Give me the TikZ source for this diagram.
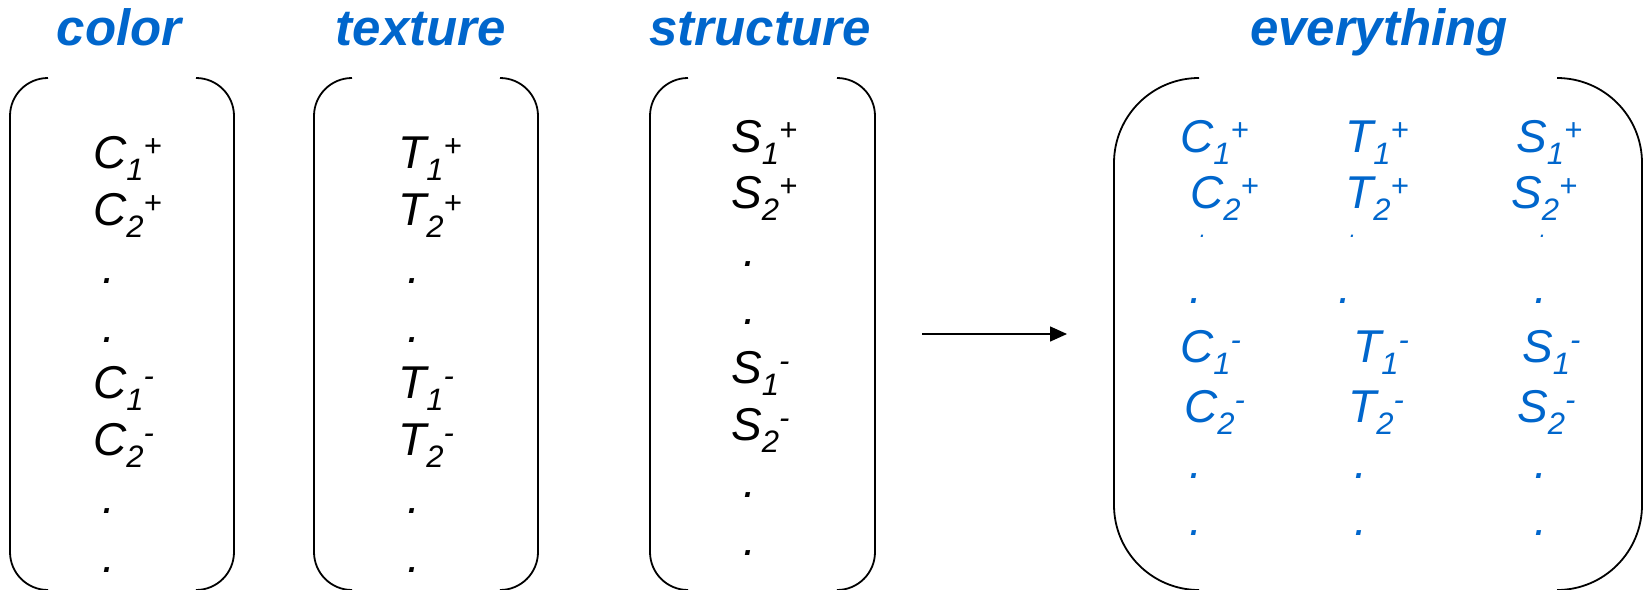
\documentclass[tikz,border=0pt]{standalone}
\usepackage{fontspec}
\setmainfont{Liberation Sans}
\usetikzlibrary{arrows.meta}
\definecolor{myblue}{RGB}{0,102,204}
\newcommand{\scr}{\fontsize{31}{31}\selectfont}
\newcommand{\ent}[3]{#1\raisebox{-12pt}{\scr #2}\raisebox{12pt}{\scr #3}}
\tikzset{
  ttl/.style={font=\fontsize{51}{51}\selectfont\bfseries\itshape, text=myblue, anchor=base, inner sep=0pt},
  entry/.style={font=\fontsize{46}{46}\selectfont\itshape, anchor=base west, inner sep=0pt},
  dotent/.style={font=\fontsize{46}{46}\selectfont\itshape, anchor=base, inner sep=0pt},
  smalldot/.style={font=\fontsize{22}{22}\selectfont\itshape, anchor=base, inner sep=0pt},
  bluetxt/.style={text=myblue},
  brk/.style={line width=1.8pt, rounded corners=#1},
  brk/.default=38pt,
  arr/.style={line width=1.5pt, -{Triangle[length=17pt,width=15pt]}}
}
\begin{document}
\begin{tikzpicture}[x=1pt,y=-1pt]
% titles
\node[ttl] (tcolor) at (119,45) {color};
\node[ttl] (ttexture) at (421,45) {texture};
\node[ttl] (tstructure) at (760,45) {structure};
\node[ttl] (teverything) at (1379,45) {everything};
% brackets
\draw[brk] (48,78) -- (10,78) -- (10,590) -- (48,590);
\draw[brk] (196,78) -- (234,78) -- (234,590) -- (196,590);
\draw[brk] (352,78) -- (314,78) -- (314,590) -- (352,590);
\draw[brk] (500,78) -- (538,78) -- (538,590) -- (500,590);
\draw[brk] (688,78) -- (650,78) -- (650,590) -- (688,590);
\draw[brk] (837,78) -- (875,78) -- (875,590) -- (837,590);
\draw[brk=85pt] (1199,78) -- (1114,78) -- (1114,590) -- (1199,590);
\draw[brk=85pt] (1557,78) -- (1642,78) -- (1642,590) -- (1557,590);
% color column
\node[entry] (c1p) at (93,168) {\ent{C}{1}{+}};
\node[entry] (c2p) at (93,225) {\ent{C}{2}{+}};
\node[dotent] (cd1) at (109,283) {.};
\node[dotent] (cd2) at (109,342) {.};
\node[entry] (c1m) at (93,398) {\ent{C}{1}{-}};
\node[entry] (c2m) at (93,455) {\ent{C}{2}{-}};
\node[dotent] (cd3) at (109,513) {.};
\node[dotent] (cd4) at (109,572) {.};
% texture column
\node[entry] (t1p) at (398,168) {\ent{T}{1}{+}};
\node[entry] (t2p) at (398,225) {\ent{T}{2}{+}};
\node[dotent] (td1) at (414,283) {.};
\node[dotent] (td2) at (414,342) {.};
\node[entry] (t1m) at (398,398) {\ent{T}{1}{-}};
\node[entry] (t2m) at (398,455) {\ent{T}{2}{-}};
\node[dotent] (td3) at (414,513) {.};
\node[dotent] (td4) at (414,572) {.};
% structure column
\node[entry] (s1p) at (731,152) {\ent{S}{1}{+}};
\node[entry] (s2p) at (731,208) {\ent{S}{2}{+}};
\node[dotent] (sd1) at (750,266) {.};
\node[dotent] (sd2) at (750,324) {.};
\node[entry] (s1m) at (731,383) {\ent{S}{1}{-}};
\node[entry] (s2m) at (731,440) {\ent{S}{2}{-}};
\node[dotent] (sd3) at (750,497) {.};
\node[dotent] (sd4) at (750,555) {.};
% arrow
\coordinate (astart) at (922,334);
\coordinate (aend) at (1067,334);
\draw[arr] (astart) -- (aend);
% everything
\begin{scope}[every node/.append style={bluetxt}]
\node[entry] (ec1p) at (1180,152) {\ent{C}{1}{+}};
\node[entry] (et1p) at (1345,152) {\ent{T}{1}{+}};
\node[entry] (es1p) at (1516,152) {\ent{S}{1}{+}};
\node[entry] (ec2p) at (1190,208) {\ent{C}{2}{+}};
\node[entry] (et2p) at (1345,208) {\ent{T}{2}{+}};
\node[entry] (es2p) at (1511,208) {\ent{S}{2}{+}};
\node[smalldot] (eds1) at (1203,237) {.};
\node[smalldot] (eds2) at (1353,237) {.};
\node[smalldot] (eds3) at (1543,237) {.};
\node[dotent] (ed1) at (1196,303) {.};
\node[dotent] (ed2) at (1345,303) {.};
\node[dotent] (ed3) at (1541,303) {.};
\node[entry] (ec1m) at (1180,362) {\ent{C}{1}{-}};
\node[entry] (et1m) at (1353,362) {\ent{T}{1}{-}};
\node[entry] (es1m) at (1522,362) {\ent{S}{1}{-}};
\node[entry] (ec2m) at (1184,422) {\ent{C}{2}{-}};
\node[entry] (et2m) at (1348,422) {\ent{T}{2}{-}};
\node[entry] (es2m) at (1517,422) {\ent{S}{2}{-}};
\node[dotent] (ed4) at (1196,478) {.};
\node[dotent] (ed5) at (1361,478) {.};
\node[dotent] (ed6) at (1541,478) {.};
\node[dotent] (ed7) at (1196,535) {.};
\node[dotent] (ed8) at (1361,535) {.};
\node[dotent] (ed9) at (1541,535) {.};
\end{scope}
\pgfresetboundingbox
\useasboundingbox (0,0) rectangle (1651,589);
\end{tikzpicture}
\end{document}
